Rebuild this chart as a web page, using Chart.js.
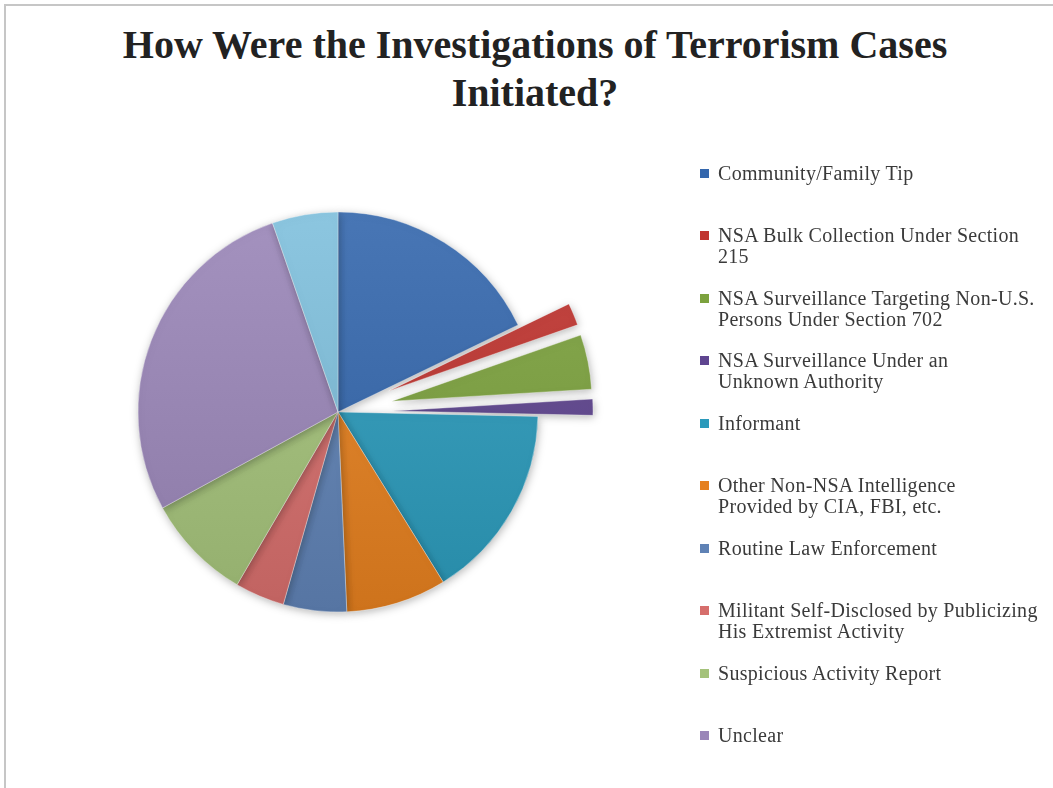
<!DOCTYPE html>
<html>
<head>
<meta charset="utf-8">
<script src="https://cdn.jsdelivr.net/npm/chart.js@4.4.0/dist/chart.umd.min.js"></script>
<style>
body { margin: 0; background: #fff; }
#wrap { position: relative; width: 1053px; height: 788px; overflow: hidden; }
#frame { position: absolute; left: 4px; top: 4px; right: -4px; bottom: -4px; border-top: 2px solid #c6c6c6; border-left: 2px solid #c6c6c6; }
#title { position: absolute; left: 0; width: 1070px; top: 21px; text-align: center; font: bold 40px "Liberation Serif", serif; line-height: 48px; color: #222; }
canvas { position: absolute; left: 0; top: 0; }
#legend { position: absolute; left: 700px; top: 0; }
.item { position: absolute; left: 0; width: 350px; font: 20px "Liberation Serif", serif; letter-spacing: 0.3px; line-height: 21px; color: #3a3a3a; }
.box { position: absolute; left: 0; top: 6px; width: 9px; height: 9px; }
.txt { position: absolute; left: 18px; white-space: nowrap; }
</style>
</head>
<body>
<div id="wrap">
  <div id="frame"></div>
  <div id="title">How Were the Investigations of Terrorism Cases<br>Initiated?</div>
  <canvas id="pieChart" width="1053" height="788"></canvas>
  <div id="legend"></div>
</div>
<script>
// Kategorije (legenda prelama tekst kao u originalu)
const categories = [
    ['Community/Family Tip'],
    ['NSA Bulk Collection Under Section', '215'],
    ['NSA Surveillance Targeting Non-U.S.', 'Persons Under Section 702'],
    ['NSA Surveillance Under an', 'Unknown Authority'],
    ['Informant'],
    ['Other Non-NSA Intelligence', 'Provided by CIA, FBI, etc.'],
    ['Routine Law Enforcement'],
    ['Militant Self-Disclosed by Publicizing', 'His Extremist Activity'],
    ['Suspicious Activity Report'],
    ['Unclear'],
    ['Other']
];

// Procenti (procenjeno sa slike)
const values = [17.8, 1.8, 4.4, 1.3, 15.8, 8.1, 5.1, 4.0, 8.6, 27.6, 5.3];

// Boje isečaka
const colors = ['#3467ad', '#c0342f', '#7ca23e', '#5f4590', '#2b9abb', '#e5801f',
                '#5f82b5', '#d66e6c', '#a4c27a', '#9a86b8', '#7fc0dc'];

// Izvučeni isečci (NSA programi)
const explodedSlices = [1, 2, 3];
// Koliko stavki ide u legendu
const legendCount = 10;

function shade(hex, amt) {
    const n = parseInt(hex.slice(1), 16);
    let r = n >> 16, g = (n >> 8) & 255, b = n & 255;
    const f = v => Math.max(0, Math.min(255, Math.round(amt > 0 ? v + (255 - v) * amt : v * (1 + amt))));
    return `rgb(${f(r)},${f(g)},${f(b)})`;
}

// Pomeranje izvučenih isečaka bez sužavanja ugla (chart.js offset ih sužava)
const explodePlugin = {
    id: 'explode',
    afterDatasetUpdate(chart, args) {
        const meta = args.meta;
        meta.data.forEach((arc, i) => {
            if (!explodedSlices.includes(i)) return;
            const mid = (arc.startAngle + arc.endAngle) / 2;
            arc.x += Math.cos(mid) * 55;
            arc.y += Math.sin(mid) * 55;
        });
    }
};

const shadowPlugin = {
    id: 'shadow',
    beforeDatasetDraw(chart) {
        const c = chart.ctx;
        c.save();
        c.shadowColor = 'rgba(0,0,0,0.28)';
        c.shadowBlur = 8;
        c.shadowOffsetX = 1;
        c.shadowOffsetY = 2;
    },
    afterDatasetDraw(chart) {
        chart.ctx.restore();
    }
};

const chart = new Chart(document.getElementById('pieChart').getContext('2d'), {
    type: 'pie',
    data: {
        labels: categories,
        datasets: [{
            data: values,
            radius: 200,
            backgroundColor: ctx => {
                const base = colors[ctx.dataIndex];
                const area = ctx.chart.chartArea;
                if (!area) return base;
                const cy = (area.top + area.bottom) / 2;
                const g = ctx.chart.ctx.createLinearGradient(0, cy - 200, 0, cy + 200);
                g.addColorStop(0, shade(base, 0.1));
                g.addColorStop(1, shade(base, -0.1));
                return g;
            },
            borderColor: 'rgba(255,255,255,0.35)',
            borderWidth: 1
        }]
    },
    options: {
        responsive: false,
        animation: false,
        devicePixelRatio: 1,
        layout: { padding: { left: 0, right: 377, top: 36, bottom: 0 } },
        plugins: {
            legend: { display: false },
            title: { display: false },
            tooltip: { enabled: false }
        }
    },
    plugins: [explodePlugin, shadowPlugin]
});

// Legenda sa desne strane
const legend = document.getElementById('legend');
chart.data.labels.slice(0, legendCount).forEach((lines, i) => {
    const item = document.createElement('div');
    item.className = 'item';
    item.style.top = (162.5 + i * 62.5) + 'px';
    const box = document.createElement('div');
    box.className = 'box';
    box.style.background = colors[i];
    const txt = document.createElement('div');
    txt.className = 'txt';
    txt.innerHTML = lines.join('<br>');
    item.appendChild(box);
    item.appendChild(txt);
    legend.appendChild(item);
});
</script>
</body>
</html>
